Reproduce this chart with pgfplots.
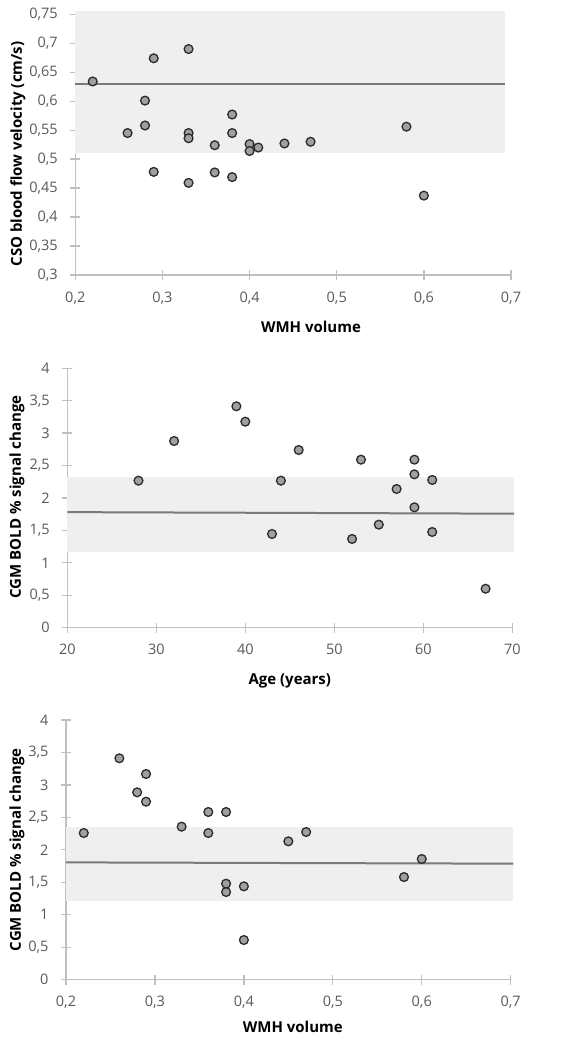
\documentclass[border=0pt]{standalone}
\usepackage{fontspec}
\setmainfont{Open Sans}
\usepackage{pgfplots}
\pgfplotsset{compat=1.18}
\definecolor{axisgray}{HTML}{BFBFBF}
\definecolor{tickgray}{HTML}{595959}
\definecolor{bandgray}{HTML}{EFEFEF}
\definecolor{linegray}{HTML}{7A7A7A}
\definecolor{markfill}{HTML}{A0A0A0}
\definecolor{markdraw}{HTML}{2B2B2B}
\pgfplotsset{
  myscatter/.style={
    scale only axis, axis x line*=bottom, axis y line*=left, clip=false,
    axis line style={-, draw=axisgray, line width=1.3pt},
    major tick style={draw=axisgray, line width=1.3pt},
    major tick length=10pt, tick align=center,
    tick label style={font=\fontsize{14.5}{16}\selectfont, color=tickgray},
    xticklabel style={yshift=-8pt},
    yticklabel style={xshift=-9pt},
    /pgf/number format/assume math mode=true,
    /pgf/number format/use comma,
    label style={font=\bfseries\fontsize{15}{18}\selectfont, color=black},
  },
  band/.style={fill=bandgray, draw=none, forget plot},
  fitline/.style={draw=linegray, line width=2pt, no marks},
  pts/.style={only marks, mark=*, mark size=4.4pt,
    mark options={fill=markfill, draw=markdraw, line width=1.3pt}},
}
\begin{document}
\begin{tikzpicture}
\path[use as bounding box] (0,0) rectangle (574pt,1043pt);
% Panel 1
\begin{axis}[myscatter,
  at={(75.3pt,768pt)}, anchor=south west, width=435.7pt, height=260.7pt,
  xmin=0.2, xmax=0.7, ymin=0.3, ymax=0.75,
  xtick={0.2,0.3,0.4,0.5,0.6,0.7},
  ytick={0.3,0.35,0.4,0.45,0.5,0.55,0.6,0.65,0.7,0.75},
  xlabel={WMH volume}, ylabel={CSO blood flow velocity (cm/s)},
  xlabel style={at={(axis description cs:0.541,-0.199)}, anchor=center},
  ylabel style={at={(axis description cs:-0.1315,0.464)}, anchor=center},
]
\addplot[band] coordinates {(0.2,0.51) (0.693,0.51) (0.693,0.7557) (0.2,0.7557)} -- cycle;
\addplot[fitline] coordinates {(0.2,0.630) (0.693,0.630)};
\addplot[pts] coordinates {
(0.22,0.634) (0.26,0.545) (0.28,0.601) (0.28,0.558) (0.29,0.674) (0.29,0.478)
(0.33,0.690) (0.33,0.545) (0.33,0.536) (0.33,0.459) (0.36,0.524) (0.36,0.477)
(0.38,0.577) (0.38,0.545) (0.38,0.469) (0.40,0.526) (0.40,0.514) (0.41,0.520)
(0.44,0.527) (0.47,0.530) (0.58,0.556) (0.60,0.437)};
\end{axis}
% Panel 2
\begin{axis}[myscatter,
  at={(67.3pt,415.3pt)}, anchor=south west, width=445pt, height=259.4pt,
  xmin=20, xmax=70, ymin=0, ymax=4,
  xtick={20,30,40,50,60,70},
  ytick={0,0.5,1,1.5,2,2.5,3,3.5,4},
  xlabel={Age (years)}, ylabel={CGM BOLD \% signal change},
  xlabel style={at={(axis description cs:0.5,-0.205)}, anchor=center},
  ylabel style={at={(axis description cs:-0.113,0.504)}, anchor=center},
]
\addplot[band] coordinates {(20,1.172) (70.2,1.172) (70.2,2.324) (20,2.324)} -- cycle;
\addplot[fitline] coordinates {(20,1.782) (70.2,1.758)};
\addplot[pts] coordinates {
(28,2.267) (32,2.879) (39,3.414) (40,3.177) (43,1.445) (44,2.267) (46,2.740)
(52,1.368) (53,2.591) (55,1.589) (57,2.139) (59,2.591) (59,2.365) (59,1.856)
(61,2.278) (61,1.476) (67,0.601)};
\end{axis}
% Panel 3
\begin{axis}[myscatter,
  at={(66pt,63.3pt)}, anchor=south west, width=444.7pt, height=259.7pt,
  xmin=0.2, xmax=0.7, ymin=0, ymax=4,
  xtick={0.2,0.3,0.4,0.5,0.6,0.7},
  ytick={0,0.5,1,1.5,2,2.5,3,3.5,4},
  xlabel={WMH volume}, ylabel={CGM BOLD \% signal change},
  xlabel style={at={(axis description cs:0.51,-0.182)}, anchor=center},
  ylabel style={at={(axis description cs:-0.110,0.5)}, anchor=center},
]
\addplot[band] coordinates {(0.2,1.207) (0.703,1.207) (0.703,2.357) (0.2,2.357)} -- cycle;
\addplot[fitline] coordinates {(0.2,1.807) (0.703,1.787)};
\addplot[pts] coordinates {
(0.22,2.259) (0.26,3.410) (0.28,2.886) (0.29,3.168) (0.29,2.742) (0.33,2.357)
(0.36,2.583) (0.36,2.259) (0.38,2.583) (0.38,1.479) (0.38,1.350) (0.40,1.438)
(0.40,0.611) (0.45,2.131) (0.47,2.275) (0.58,1.581) (0.60,1.859)};
\end{axis}
\end{tikzpicture}
\end{document}
